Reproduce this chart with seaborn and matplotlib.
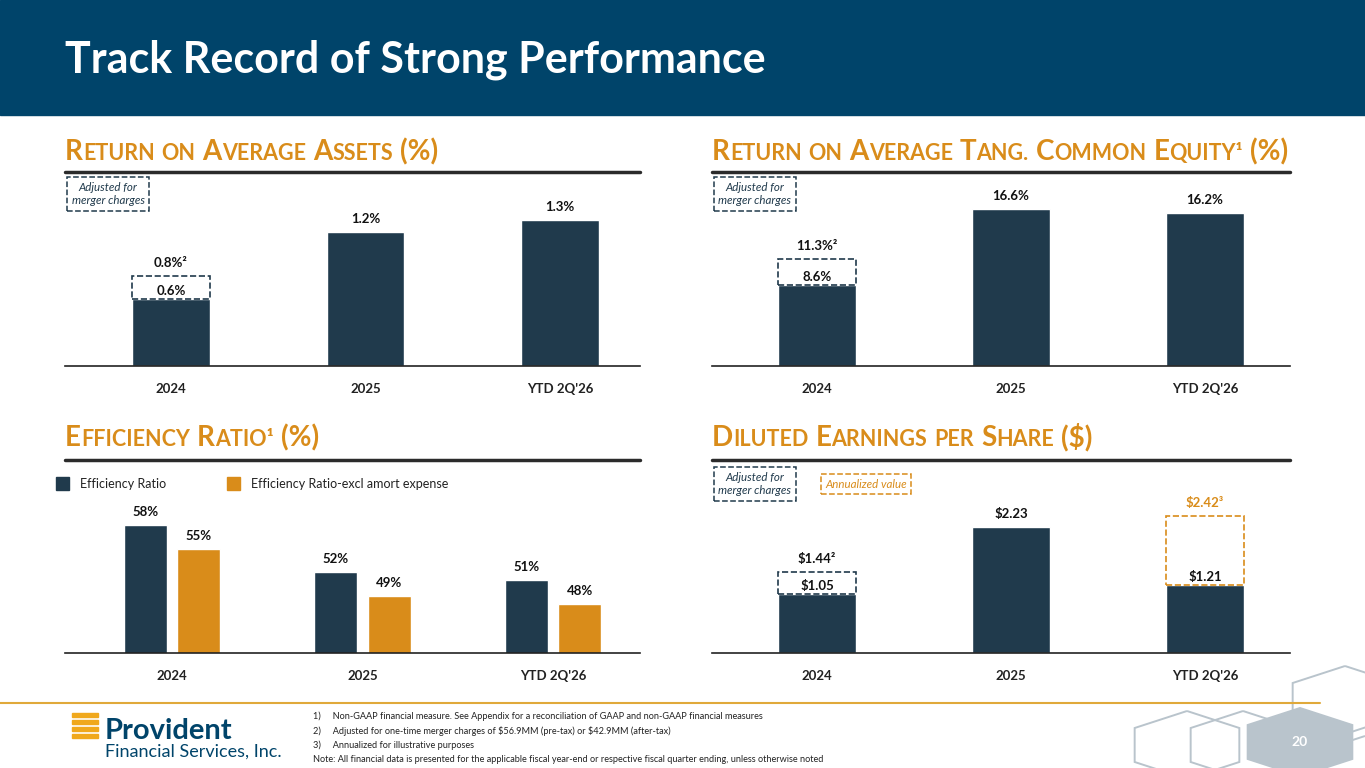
import matplotlib
matplotlib.use("Agg")
import matplotlib.pyplot as plt
import seaborn as sns
import pandas as pd
from matplotlib.patches import Rectangle, RegularPolygon

sns.set_theme(style="white")
plt.rcParams['font.family'] = ['Lato', 'DejaVu Sans']
plt.rcParams['text.parse_math'] = False

periods = ["2024", "2025", "YTD 2Q'26"]
roaa = [0.6, 1.2, 1.3]
roaa_adj = [0.8, None, None]
rotce = [8.6, 16.6, 16.2]
rotce_adj = [11.3, None, None]
eff_names = ["Efficiency Ratio", "Efficiency Ratio-excl amort expense"]
eff = [58, 52, 51]
eff_excl = [55, 49, 48]
eps = [1.05, 2.23, 1.21]
eps_adj = [1.44, None, None]
eps_annual = [None, None, 2.42]

DARK = "#203a4c"
ORANGE = "#d98c1a"
BLUE = "#00446a"
W, H = 1365, 768
fig = plt.figure(figsize=(13.65, 7.68), dpi=100)

def ax_px(x0, y0, x1, y1):
    return fig.add_axes([x0 / W, 1 - y1 / H, (x1 - x0) / W, (y1 - y0) / H])

def ftext(x, y, s, **kw):
    return fig.text(x / W, 1 - y / H, s, **kw)

fig.patches.append(Rectangle((0, 1 - 115 / H), 1, 115 / H, transform=fig.transFigure, color=BLUE, zorder=0))
ftext(65, 60, "Track Record of Strong Performance", color="white", fontsize=31, fontweight="bold", va="center")

def smallcaps(x, y, words):
    fig.canvas.draw()
    r = fig.canvas.get_renderer()
    cx = x
    for w in words:
        if w[0].isupper():
            parts = [(w[0], 20), (w[1:].upper(), 15.5)]
        elif w[0].islower():
            parts = [(w.upper(), 15.5)]
        else:
            parts = [(w, 20)]
        for s, fs in parts:
            if not s:
                continue
            t = ftext(cx, y, s, color=ORANGE, fontsize=fs, fontweight="bold", va="baseline")
            cx += t.get_window_extent(r).width
        cx += 7

smallcaps(65, 160, ["Return", "on", "Average", "Assets", "(%)"])
smallcaps(712, 160, ["Return", "on", "Average", "Tang.", "Common", "Equity¹", "(%)"])
smallcaps(65, 446, ["Efficiency", "Ratio¹", "(%)"])
smallcaps(712, 446, ["Diluted", "Earnings", "per", "Share", "($)"])

for (x0, x1, y) in [(65, 640, 172), (712, 1290, 172), (65, 640, 460), (712, 1290, 460)]:
    fig.add_artist(plt.Line2D([x0 / W, x1 / W], [1 - y / H] * 2, color="#2b2b2b", lw=2.5, transform=fig.transFigure))

def note(x, y, s, color=DARK):
    ftext(x, y, s, color=color, fontsize=8.3, style="italic", ha="center", va="center",
          bbox=dict(boxstyle="square,pad=0.4", fc="white", ec=color, ls="--", lw=1.1))

note(108, 194, "Adjusted for\nmerger charges")
note(755, 194, "Adjusted for\nmerger charges")
note(755, 484, "Adjusted for\nmerger charges")
note(866, 484, "Annualized value", ORANGE)

def style_ax(ax, xl, yl):
    ax.set_xlim(*xl); ax.set_ylim(*yl)
    for s in ["top", "right", "left"]:
        ax.spines[s].set_visible(False)
    ax.spines["bottom"].set_color("#222222"); ax.spines["bottom"].set_linewidth(1.2)
    ax.set_yticks([]); ax.set_xlabel(""); ax.set_ylabel("")
    ax.tick_params(axis="x", length=0, pad=12)
    for t in ax.get_xticklabels():
        t.set_fontweight("bold"); t.set_fontsize(9.5); t.set_color("#222222")
    if ax.get_legend():
        ax.get_legend().remove()

def lab(ax, x, y, s, color="#111111", off=5):
    ax.annotate(s, (x, y), xytext=(0, off), textcoords="offset points", ha="center", va="bottom",
                fontsize=9.5, fontweight="bold", color=color)

def xlim_for(x0, x1, c0, c2):
    sp = (c2 - c0) / 2
    return (-(c0 - x0) / sp, 2 + (x1 - c2) / sp)

def simple_panel(rect, centers, vals, adj, ylim, fmt):
    ax = ax_px(*rect)
    df = pd.DataFrame({"p": periods, "v": vals})
    sns.barplot(data=df, x="p", y="v", color=DARK, saturation=1, width=0.4, ax=ax)
    for i, (v, a) in enumerate(zip(vals, adj)):
        if a is None:
            lab(ax, i, v, fmt(v))
        else:
            ax.bar(i, a - v, bottom=v, width=0.4, fill=False, ec=DARK, ls="--", lw=1.2)
            lab(ax, i, v, fmt(v), off=1)
            lab(ax, i, a, fmt(a) + "²")
    style_ax(ax, xlim_for(rect[0], rect[2], *centers), ylim)
    return ax

simple_panel((65, 170, 640, 366), (171, 560), roaa, roaa_adj, (0, 1.75), lambda v: f"{v:.1f}%")
simple_panel((712, 170, 1290, 366), (817, 1205), rotce, rotce_adj, (0, 20.7), lambda v: f"{v:.1f}%")

# EPS
ax = ax_px(712, 460, 1290, 653)
df = pd.DataFrame({"p": periods, "v": eps})
sns.barplot(data=df, x="p", y="v", color=DARK, saturation=1, width=0.4, ax=ax)
for i, v in enumerate(eps):
    if eps_adj[i] is not None:
        ax.bar(i, eps_adj[i] - v, bottom=v, width=0.4, fill=False, ec=DARK, ls="--", lw=1.2)
        lab(ax, i, v, f"${v:.2f}", off=1)
        lab(ax, i, eps_adj[i], f"${eps_adj[i]:.2f}²")
    elif eps_annual[i] is not None:
        ax.bar(i, eps_annual[i] - v, bottom=v, width=0.4, fill=False, ec=ORANGE, ls="--", lw=1.2)
        lab(ax, i, v, f"${v:.2f}", off=1)
        lab(ax, i, eps_annual[i], f"${eps_annual[i]:.2f}³", color=ORANGE)
    else:
        lab(ax, i, v, f"${v:.2f}")
style_ax(ax, xlim_for(712, 1290, 817, 1205), (0, 3.42))

# efficiency
ax = ax_px(65, 460, 640, 653)
df = pd.DataFrame({"p": periods * 2, "s": [eff_names[0]] * 3 + [eff_names[1]] * 3, "v": eff + eff_excl})
sns.barplot(data=df, x="p", y="v", hue="s", palette=[DARK, ORANGE], saturation=1, width=0.56, gap=0.2, ax=ax)
for c in ax.containers:
    for b in c:
        lab(ax, b.get_x() + b.get_width() / 2, b.get_height(), f"{b.get_height():.0f}%")
style_ax(ax, xlim_for(65, 640, 172, 553), (41.8, 66.2))
for x, c, n in [(62, DARK, eff_names[0]), (233, ORANGE, eff_names[1])]:
    fig.patches.append(Rectangle(((x - 6) / W, 1 - 490 / H), 13 / W, 13 / H, transform=fig.transFigure, color=c))
    ftext(x + 18, 484, n, fontsize=9, va="center", color="#222222")

# footer
fig.add_artist(plt.Line2D([0, 1320 / W], [1 - 703 / H] * 2, color="#e0a93a", lw=1.5, transform=fig.transFigure))
ftext(105, 731, "Provident", color=BLUE, fontsize=21, fontweight="bold", va="center")
ftext(105, 752, "Financial Services, Inc.", color=BLUE, fontsize=13, va="center")
for k in range(4):
    fig.patches.append(Rectangle((72 / W, 1 - (717 + k * 7) / H), 26 / W, 4.5 / H, transform=fig.transFigure,
                                 color="#f0a81c"))
notes = ["1)     Non-GAAP financial measure. See Appendix for a reconciliation of GAAP and non-GAAP financial measures",
         "2)     Adjusted for one-time merger charges of $56.9MM (pre-tax) or $42.9MM (after-tax)",
         "3)     Annualized for illustrative purposes",
         "Note: All financial data is presented for the applicable fiscal year-end or respective fiscal quarter ending, unless otherwise noted"]
for k, s in enumerate(notes):
    ftext(313, 716 + k * 14.5, s, fontsize=6.6, va="center", color="#222222")
hexes = [(1187, 745, False), (1243, 745, False), (1300, 742, True), (1345, 700, False), (1365, 770, False)]
for hx, hy, filled in hexes:
    fig.patches.append(RegularPolygon((hx / W, 1 - hy / H), 6, radius=34 / H, orientation=0,
                                      transform=fig.transFigure, fc="#b9c4cc" if filled else "none",
                                      ec="#b9c4cc", lw=1.4))
ftext(1300, 742, "20", color="white", fontsize=10, fontweight="bold", ha="center", va="center")

fig.savefig("out.png", dpi=100)
